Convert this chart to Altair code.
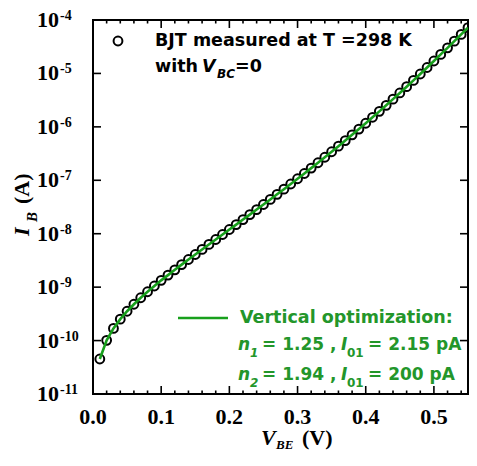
import altair as alt
import pandas as pd

# ---------------- data ----------------
vbe = [0.01, 0.02, 0.03, 0.04, 0.05, 0.06, 0.07, 0.08, 0.09, 0.10,
       0.11, 0.12, 0.13, 0.14, 0.15, 0.16, 0.17, 0.18, 0.19, 0.20,
       0.21, 0.22, 0.23, 0.24, 0.25, 0.26, 0.27, 0.28, 0.29, 0.30,
       0.31, 0.32, 0.33, 0.34, 0.35, 0.36, 0.37, 0.38, 0.39, 0.40,
       0.41, 0.42, 0.43, 0.44, 0.45, 0.46, 0.47, 0.48, 0.49, 0.50,
       0.51, 0.52, 0.53, 0.54, 0.55]

ib_measured = [4.52e-11, 1.01e-10, 1.69e-10, 2.52e-10, 3.54e-10, 4.79e-10, 6.32e-10, 8.20e-10, 1.05e-9, 1.34e-9,
               1.68e-9, 2.11e-9, 2.64e-9, 3.29e-9, 4.09e-9, 5.08e-9, 6.30e-9, 7.80e-9, 9.67e-9, 1.20e-8,
               1.48e-8, 1.84e-8, 2.28e-8, 2.83e-8, 3.52e-8, 4.38e-8, 5.46e-8, 6.82e-8, 8.53e-8, 1.07e-7,
               1.34e-7, 1.69e-7, 2.13e-7, 2.70e-7, 3.42e-7, 4.35e-7, 5.54e-7, 7.08e-7, 9.09e-7, 1.17e-6,
               1.51e-6, 1.95e-6, 2.53e-6, 3.30e-6, 4.31e-6, 5.65e-6, 7.41e-6, 9.77e-6, 1.29e-5, 1.71e-5,
               2.27e-5, 3.01e-5, 4.02e-5, 5.37e-5, 7.18e-5]

ib_fit = [4.52e-11, 1.01e-10, 1.69e-10, 2.52e-10, 3.54e-10, 4.79e-10, 6.32e-10, 8.20e-10, 1.05e-9, 1.34e-9,
          1.68e-9, 2.11e-9, 2.64e-9, 3.29e-9, 4.09e-9, 5.08e-9, 6.30e-9, 7.80e-9, 9.67e-9, 1.20e-8,
          1.48e-8, 1.84e-8, 2.28e-8, 2.83e-8, 3.52e-8, 4.38e-8, 5.46e-8, 6.82e-8, 8.53e-8, 1.07e-7,
          1.34e-7, 1.69e-7, 2.13e-7, 2.70e-7, 3.42e-7, 4.35e-7, 5.54e-7, 7.08e-7, 9.09e-7, 1.17e-6,
          1.51e-6, 1.95e-6, 2.53e-6, 3.30e-6, 4.31e-6, 5.65e-6, 7.41e-6, 9.77e-6, 1.29e-5, 1.71e-5,
          2.27e-5, 3.01e-5, 4.02e-5, 5.37e-5, 7.18e-5]

x_labels = [0.0, 0.1, 0.2, 0.3, 0.4, 0.5]
x_label_text = ["0.0", "0.1", "0.2", "0.3", "0.4", "0.5"]
x_major = [0.1, 0.2, 0.3, 0.4, 0.5]
x_minor = [0.02, 0.04, 0.06, 0.08, 0.12, 0.14, 0.16, 0.18, 0.22, 0.24, 0.26, 0.28,
           0.32, 0.34, 0.36, 0.38, 0.42, 0.44, 0.46, 0.48, 0.52, 0.54]
y_decades = [1e-11, 1e-10, 1e-9, 1e-8, 1e-7, 1e-6, 1e-5, 1e-4]
y_exponents = ["-11", "-10", "-9", "-8", "-7", "-6", "-5", "-4"]
y_inner_ticks = [1e-10, 1e-9, 1e-8, 1e-7, 1e-6, 1e-5]

# ---------------- styling ----------------
W, H = 375, 374
GREEN_TXT = "#23962a"
GREEN_LINE = "#18a01c"
SERIF = "Liberation Serif"
SANS = "DejaVu Sans"

x_scale = alt.Scale(domain=[0, 0.55], nice=False, zero=False)
y_scale = alt.Scale(type="log", domain=[1e-11, 1e-4], nice=False)

df = pd.DataFrame({"vbe": vbe, "ib": ib_measured, "fit": ib_fit})

points = alt.Chart(df).mark_point(
    shape="circle", filled=False, color="black", size=78, strokeWidth=2, opacity=1
).encode(
    x=alt.X("vbe:Q", scale=x_scale, axis=None),
    y=alt.Y("ib:Q", scale=y_scale, axis=None),
)

fit_line = alt.Chart(df).mark_line(color=GREEN_LINE, strokeWidth=2.6, clip=True).encode(
    x=alt.X("vbe:Q", scale=x_scale, axis=None),
    y=alt.Y("fit:Q", scale=y_scale, axis=None),
)

def xticks(vals, y0, y1):
    return alt.Chart(pd.DataFrame({"v": vals})).mark_rule(color="black", strokeWidth=1.6).encode(
        x=alt.X("v:Q", scale=x_scale, axis=None), y=alt.value(y0), y2=alt.value(y1))

def yticks(vals, x0, x1):
    return alt.Chart(pd.DataFrame({"d": vals})).mark_rule(color="black", strokeWidth=1.6).encode(
        y=alt.Y("d:Q", scale=y_scale, axis=None), x=alt.value(x0), x2=alt.value(x1))

ticks = [
    xticks(x_major, H, H - 8), xticks(x_minor, H, H - 3.5),
    xticks(x_major, 0, 8), xticks(x_minor, 0, 3.5),
    yticks(y_inner_ticks, 0, 8), yticks(y_inner_ticks, W, W - 8),
]

xdf = pd.DataFrame({"v": x_labels, "t": x_label_text})
xlab = alt.Chart(xdf).mark_text(
    align="center", baseline="middle", font=SERIF, fontWeight="bold", fontSize=22, color="black"
).encode(x=alt.X("v:Q", scale=x_scale, axis=None), y=alt.value(H + 23), text="t:N")

ydf = pd.DataFrame({"d": y_decades, "e": y_exponents})
ylab_base = alt.Chart(ydf).mark_text(
    align="left", baseline="middle", font=SERIF, fontWeight="bold", fontSize=22, color="black"
).encode(x=alt.value(-56), y=alt.Y("d:Q", scale=y_scale, axis=None), text=alt.value("10"))
ylab_exp = alt.Chart(ydf).mark_text(
    align="left", baseline="middle", font=SERIF, fontWeight="bold", fontSize=14, color="black", dy=-4
).encode(x=alt.value(-33), y=alt.Y("d:Q", scale=y_scale, axis=None), text="e:N")

one = pd.DataFrame({"a": [0]})

def txt(s, x, y, size, color="black", font=SANS, weight="bold", style="normal", angle=0):
    return alt.Chart(one).mark_text(
        align="left", baseline="middle", font=font, fontSize=size, fontWeight=weight,
        fontStyle=style, color=color, angle=angle
    ).encode(x=alt.value(x), y=alt.value(y), text=alt.value(s))

annotations = [
    # legend: measured
    txt("BJT measured at T =298 K", 62, 21, 17.5),
    txt("with", 62, 47, 17.5),
    txt("V", 109, 47, 17.5, style="italic"),
    txt("BC", 124, 54, 12, style="italic"),
    txt("=0", 142, 47, 17.5),
    # legend: fit
    txt("Vertical optimization:", 147, 298, 17.5, GREEN_TXT),
    txt("n", 145, 325, 17, GREEN_TXT, style="italic"),
    txt("1", 157, 333, 12, GREEN_TXT, style="italic"),
    txt("= 1.25 ,", 169, 325, 17, GREEN_TXT),
    txt("I", 248, 325, 17, GREEN_TXT, style="italic"),
    txt("01", 254, 333, 12, GREEN_TXT),
    txt("= 2.15 pA", 275, 325, 17, GREEN_TXT),
    txt("n", 145, 355, 17, GREEN_TXT, style="italic"),
    txt("2", 157, 363, 12, GREEN_TXT, style="italic"),
    txt("= 1.94 ,", 169, 355, 17, GREEN_TXT),
    txt("I", 248, 355, 17, GREEN_TXT, style="italic"),
    txt("01", 254, 363, 12, GREEN_TXT),
    txt("= 200 pA", 275, 355, 17, GREEN_TXT),
    # x title
    txt("V", 168, 418, 22, font=SERIF, weight="bold", style="italic"),
    txt("BE", 183, 425, 13, font=SERIF, weight="bold", style="italic"),
    txt("(V)", 209, 418, 22, font=SERIF, weight="bold"),
    # y title (rotated)
    txt("I", -71, 216, 22, font=SERIF, weight="bold", style="italic", angle=270),
    txt("B", -61, 202, 15, font=SERIF, weight="bold", style="italic", angle=270),
    txt("(A)", -71, 184, 22, font=SERIF, weight="bold", angle=270),
]

legend_sym = alt.Chart(one).mark_point(
    shape="circle", filled=False, color="black", size=78, strokeWidth=2, opacity=1
).encode(x=alt.value(25), y=alt.value(21))
legend_line = alt.Chart(one).mark_rule(color=GREEN_LINE, strokeWidth=2.6).encode(
    x=alt.value(85), x2=alt.value(135), y=alt.value(298))

chart = alt.layer(
    points, fit_line, *ticks, xlab, ylab_base, ylab_exp, legend_sym, legend_line, *annotations
).properties(
    width=W, height=H,
    autosize=alt.AutoSizeParams(type="none"),
    padding={"left": 85, "top": 12, "right": 1, "bottom": 58},
    background="white",
).configure_view(stroke="black", strokeWidth=2)

chart.save("out.html", embed_options={"renderer": "svg", "actions": False})
